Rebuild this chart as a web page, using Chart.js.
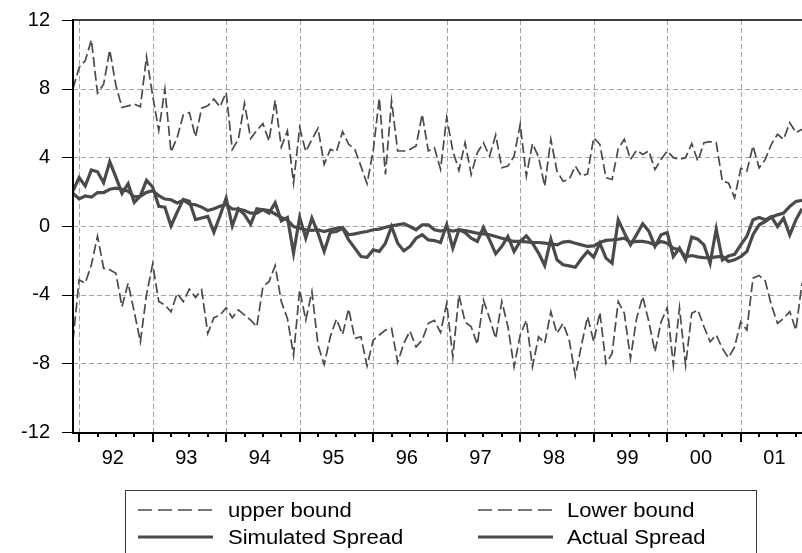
<!DOCTYPE html>
<html>
<head>
<meta charset="utf-8">
<script src="https://cdn.jsdelivr.net/npm/chart.js@4.4.1/dist/chart.umd.min.js"></script>
<style>
  html, body { margin: 0; padding: 0; background: #fff; overflow: hidden; }
  #wrap { position: relative; width: 802px; height: 553px; overflow: hidden; }
  #c { position: absolute; left: 0; top: 0; }
  #legend { position: absolute; left: 125px; top: 490px; width: 632px; height: 90px;
            border: 1px solid #3a3a3a; box-sizing: border-box; }
  .item { position: absolute; height: 26px; }
  .item svg { position: absolute; left: 0; top: 0; }
  .item span { position: absolute; top: 0; line-height: 26px; white-space: nowrap;
               font-family: "Liberation Sans", Arial, sans-serif; font-size: 19.5px; color: #000;
               transform: scaleX(1.13); transform-origin: left center; }
</style>
</head>
<body>
<div id="wrap">
  <canvas id="c" width="802" height="553"></canvas>
  <div id="legend"></div>
</div>
<script>
// ---- data (monthly, 1991:12 .. 2001:11) ----
const yearLabels = ['92','93','94','95','96','97','98','99','00','01'];
const yTicks = [-12, -8, -4, 0, 4, 8, 12];

const upperBound = [
  8.0, 9.24, 9.63, 10.84, 7.74, 8.26, 10.25, 8.2, 6.9, 7.0, 7.1, 6.94,
  9.86, 7.6, 5.57, 7.97, 4.31, 5.15, 6.47, 6.61, 5.19, 6.86, 7.0, 7.39,
  6.94, 7.78, 4.46, 5.05, 7.15, 5.09, 5.57, 5.96, 4.95, 7.33, 4.6, 5.54,
  2.51, 5.73, 4.33, 5.05, 5.69, 3.59, 4.46, 4.33, 5.5, 4.76, 4.46, 3.49,
  2.46, 4.37, 7.45, 3.0, 7.29, 4.37, 4.37, 4.46, 4.66, 6.51, 4.37, 4.56,
  3.3, 6.32, 4.37, 3.24, 4.85, 3.0, 4.27, 4.85, 4.07, 5.3, 3.39, 3.49,
  4.07, 5.93, 2.9, 4.8, 4.02, 2.32, 5.05, 3.2, 2.61, 2.71, 3.49, 2.9,
  3.04, 5.15, 4.76, 2.81, 2.71, 4.5, 5.05, 3.88, 4.41, 4.17, 4.37, 3.29,
  3.88, 4.37, 3.98, 3.88, 3.98, 4.8, 3.78, 4.85, 4.91, 4.85, 2.61, 2.51,
  1.64, 3.35, 3.2, 4.66, 3.39, 3.88, 4.76, 5.34, 5.05, 6.02, 5.44, 5.63
];
const lowerBound = [
  -6.65, -3.14, -3.33, -2.26, -0.6, -2.46, -2.55, -2.75, -4.7, -3.33, -5.0, -6.74,
  -4.0, -2.22, -4.4, -4.6, -5.0, -3.92, -4.4, -3.68, -4.17, -3.72, -6.26, -5.34,
  -5.19, -4.76, -5.34, -4.89, -5.19, -5.48, -5.87, -3.53, -3.24, -2.3, -4.4, -5.38,
  -7.52, -3.72, -5.48, -3.82, -6.94, -8.07, -6.45, -5.42, -6.32, -4.83, -6.55, -6.45,
  -8.15, -6.65, -6.35, -6.06, -5.96, -7.95, -6.84, -6.12, -7.04, -6.65, -5.67, -5.5,
  -6.2, -4.5, -7.62, -4.02, -5.58, -5.87, -6.9, -4.31, -5.38, -6.55, -4.4, -5.87,
  -8.2, -6.35, -5.48, -8.2, -6.45, -6.84, -4.99, -6.26, -5.67, -6.65, -8.73, -6.94,
  -5.28, -6.74, -5.03, -8.01, -7.43, -4.4, -5.09, -7.72, -5.38, -4.11, -5.58, -7.33,
  -5.58, -4.76, -8.11, -4.76, -8.11, -5.09, -4.89, -5.87, -6.74, -6.35, -7.13, -7.68,
  -7.04, -5.58, -6.06, -3.04, -2.88, -3.2, -4.6, -5.67, -5.38, -4.99, -6.06, -3.33
];
const simulatedSpread = [
  1.9, 1.58, 1.75, 1.68, 1.95, 1.95, 2.14, 2.2, 2.14, 2.03, 1.7, 1.73,
  1.96, 2.05, 1.77, 1.57, 1.53, 1.34, 1.5, 1.28, 1.24, 1.1, 0.9, 1.0,
  1.15, 1.25, 0.99, 0.99, 0.9, 0.75, 0.75, 0.95, 0.9, 0.7, 0.5, 0.35,
  -0.03, -0.13, -0.22, -0.26, -0.22, -0.32, -0.22, -0.13, -0.09, -0.51, -0.46, -0.38,
  -0.32, -0.22, -0.18, -0.07, 0.01, 0.07, 0.13, -0.03, -0.22, 0.07, 0.07, -0.22,
  -0.3, -0.18, -0.3, -0.22, -0.26, -0.34, -0.42, -0.46, -0.51, -0.61, -0.71, -0.81,
  -0.9, -0.9, -0.92, -0.96, -0.96, -1.0, -1.04, -1.1, -0.94, -0.9, -1.0, -1.1,
  -1.19, -1.16, -0.96, -0.84, -0.81, -0.77, -0.71, -0.95, -0.9, -0.9, -0.96, -1.1,
  -0.9, -1.0, -1.3, -1.38, -1.8, -1.72, -1.8, -1.85, -1.85, -1.8, -1.77, -2.07,
  -1.97, -1.78, -1.49, -0.5, 0.07, 0.26, 0.51, 0.65, 0.75, 1.14, 1.43, 1.49
];
const actualSpread = [
  2.05, 2.82, 2.33, 3.27, 3.16, 2.52, 3.75, 2.85, 1.9, 2.46, 1.37, 1.75,
  2.66, 2.27, 1.15, 1.1, 0.0, 0.8, 1.55, 1.44, 0.37, 0.47, 0.56, -0.36,
  0.6, 1.63, 0.0, 1.0, 0.66, 0.1, 1.0, 0.95, 0.75, 1.35, 0.3, 0.5,
  -1.58, 0.51, -0.71, 0.46, -0.42, -1.48, -0.38, -0.32, -0.13, -0.81, -1.29, -1.78,
  -1.82, -1.39, -1.48, -1.0, -0.03, -1.0, -1.45, -1.19, -0.71, -0.51, -0.81, -0.85,
  -0.96, 0.07, -1.29, -0.22, -0.38, -0.71, -0.9, -0.09, -0.81, -1.62, -1.19, -0.61,
  -1.48, -0.9, -0.57, -1.0, -1.58, -2.3, -0.77, -1.97, -2.26, -2.32, -2.4, -1.91,
  -1.48, -1.82, -1.0, -1.87, -2.17, 0.36, -0.4, -1.1, -0.5, 0.13, -0.3, -1.19,
  -0.51, -0.38, -1.78, -1.29, -1.97, -0.65, -0.77, -1.1, -2.17, -0.18, -1.97, -1.75,
  -1.65, -1.1, -0.6, 0.36, 0.5, 0.36, 0.55, -0.03, 0.46, -0.52, 0.36, 1.0
];
const seriesNames = ['upper bound', 'Lower bound', 'Simulated Spread', 'Actual Spread'];

// month index 0 = 1991:12, so January of each labelled year is 1 + 12k
const yearStarts = yearLabels.map((_, k) => 1 + 12 * k);
const labelPos = yearLabels.map((_, k) => 1 + 12 * k + 5.5);
const nObs = upperBound.length;
const quarterTicks = [];
for (let m = 1; m < nObs; m += 3) quarterTicks.push(m);

const LINE = '#4a4a4a';
const GRID = '#a3a3a3';
const FONT = '"Liberation Sans", Arial, sans-serif';

const toXY = arr => arr.map((v, i) => ({ x: i, y: v }));

const framePlugin = {
  id: 'frame',
  beforeDatasetsDraw(chart) {
    const { ctx, chartArea: a, scales: { x, y } } = chart;
    ctx.save();
    ctx.strokeStyle = GRID;
    ctx.lineWidth = 1;
    ctx.setLineDash([5, 3]);
    yTicks.forEach(v => {
      if (v === yTicks[0] || v === yTicks[yTicks.length - 1]) return;
      const py = Math.round(y.getPixelForValue(v)) + 0.5;
      ctx.beginPath(); ctx.moveTo(a.left, py); ctx.lineTo(a.right, py); ctx.stroke();
    });
    yearStarts.forEach(v => {
      const px = Math.round(x.getPixelForValue(v)) + 0.5;
      ctx.beginPath(); ctx.moveTo(px, a.top); ctx.lineTo(px, a.bottom); ctx.stroke();
    });
    ctx.restore();
  },
  afterDatasetsDraw(chart) {
    const { ctx, chartArea: a, scales: { x, y } } = chart;
    ctx.save();
    ctx.setLineDash([]);
    ctx.strokeStyle = '#000';
    // top frame
    ctx.lineWidth = 1.5;
    ctx.beginPath(); ctx.moveTo(a.left, a.top); ctx.lineTo(a.right, a.top); ctx.stroke();
    // left & bottom axes
    ctx.lineWidth = 2;
    ctx.beginPath(); ctx.moveTo(a.left, a.top - 1); ctx.lineTo(a.left, a.bottom + 1);
    ctx.lineTo(a.right, a.bottom + 1); ctx.stroke();
    // y ticks
    ctx.lineWidth = 1;
    yTicks.forEach(v => {
      const py = Math.round(y.getPixelForValue(v)) + 0.5;
      ctx.beginPath(); ctx.moveTo(a.left - 11, py); ctx.lineTo(a.left, py); ctx.stroke();
    });
    // x ticks: long at years, short at quarters
    ctx.lineWidth = 2;
    quarterTicks.forEach(v => {
      const px = Math.round(x.getPixelForValue(v));
      const len = yearStarts.includes(v) ? 10 : 5;
      ctx.beginPath(); ctx.moveTo(px, a.bottom); ctx.lineTo(px, a.bottom + len); ctx.stroke();
    });
    ctx.restore();
  }
};

new Chart(document.getElementById('c'), {
  type: 'line',
  data: {
    datasets: [
      { label: seriesNames[0], data: toXY(upperBound), borderColor: LINE, borderWidth: 1.7, borderDash: [10, 4] },
      { label: seriesNames[1], data: toXY(lowerBound), borderColor: LINE, borderWidth: 1.7, borderDash: [10, 4] },
      { label: seriesNames[2], data: toXY(simulatedSpread), borderColor: LINE, borderWidth: 3.2 },
      { label: seriesNames[3], data: toXY(actualSpread), borderColor: LINE, borderWidth: 3.2 }
    ]
  },
  options: {
    responsive: false,
    animation: false,
    devicePixelRatio: 1,
    layout: { padding: { top: 20, right: 0, left: 0, bottom: 0 } },
    elements: { point: { radius: 0 }, line: { tension: 0, borderJoinStyle: 'miter' } },
    plugins: { legend: { display: false }, tooltip: { enabled: false } },
    scales: {
      x: {
        type: 'linear', min: 0, max: nObs - 1,
        grid: { display: false, drawTicks: false }, border: { display: false },
        afterBuildTicks: s => { s.ticks = labelPos.map(v => ({ value: v })); },
        afterFit: s => { s.height = 121; s.paddingLeft = 0; s.paddingRight = 0; },
        ticks: {
          autoSkip: false, maxRotation: 0, padding: 14, color: '#000',
          font: { family: FONT, size: 20 },
          callback: (val, idx) => yearLabels[idx]
        }
      },
      y: {
        min: yTicks[0], max: yTicks[yTicks.length - 1],
        grid: { display: false, drawTicks: false }, border: { display: false },
        afterBuildTicks: s => { s.ticks = yTicks.map(v => ({ value: v })); },
        afterFit: s => { s.width = 73; s.paddingTop = 0; s.paddingBottom = 0; },
        ticks: { padding: 23, color: '#000', font: { family: FONT, size: 20 },
                 callback: v => String(v) }
      }
    }
  },
  plugins: [framePlugin]
});

// ---- legend (HTML text) ----
const legend = document.getElementById('legend');
const legendLayout = [
  { name: seriesNames[0], dash: '14 6', w: 1.7, sx: 12, tx: 102, ty: 6 },
  { name: seriesNames[1], dash: '14 6', w: 1.7, sx: 352, tx: 441, ty: 6 },
  { name: seriesNames[2], dash: '', w: 3.2, sx: 12, tx: 102, ty: 33 },
  { name: seriesNames[3], dash: '', w: 3.2, sx: 352, tx: 441, ty: 33 }
];
legendLayout.forEach(it => {
  const d = document.createElement('div');
  d.className = 'item';
  d.style.left = it.sx + 'px';
  d.style.top = it.ty + 'px';
  d.style.width = '300px';
  const len = 75;
  d.innerHTML = '<svg width="' + len + '" height="26"><line x1="0" y1="13" x2="' + len +
    '" y2="13" stroke="' + LINE + '" stroke-width="' + it.w + '"' +
    (it.dash ? ' stroke-dasharray="' + it.dash + '"' : '') + '/></svg>' +
    '<span style="left:' + (it.tx - it.sx) + 'px">' + it.name + '</span>';
  legend.appendChild(d);
});
</script>
</body>
</html>
